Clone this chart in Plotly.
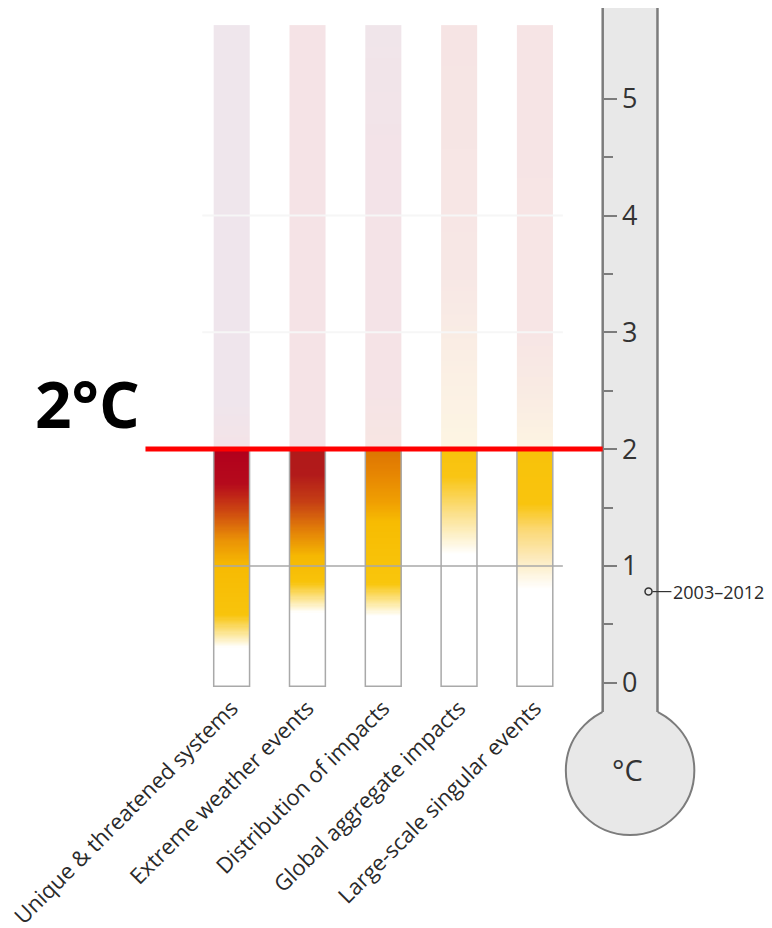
import numpy as np
import plotly.graph_objects as go

# ---------------- data ----------------
CATEGORIES = [
    "Unique & threatened systems",
    "Extreme weather events",
    "Distribution of impacts",
    "Global aggregate impacts",
    "Large-scale singular events",
]
CAT_POS = [0, 1, 2, 3, 4]

BAR_BOTTOM = -0.03        # °C, bottom of each bar
BAR_TOP = 5.63            # °C, top of the faded bars
THRESHOLD = 2.0           # red 2 °C line
REF_LINE = 1.0            # grey 1 °C line
GRID_LEVELS = [3, 4]      # faint white lines
TEMP_TICKS = [0, 1, 2, 3, 4, 5]
MINOR_TICKS = [0.5, 1.5, 2.5, 3.5, 4.5]
WARMING_2003_2012 = 0.78
WARMING_LABEL = "2003–2012"
BIG_LABEL = "2°C"
BIG_LABEL_Y = 2.39

# colour stops (temperature °C, colour), full part below 2 °C
STOPS_UNIQUE = [(-0.03, "#ffffff"), (0.30, "#ffffff"), (0.58, "#f8c40c"), (1.00, "#f7ba02"),
                (1.22, "#ea9206"), (1.45, "#cf4c10"), (1.70, "#b50a1c"), (2.0, "#b1001c")]
STOPS_EXTREME = [(-0.03, "#ffffff"), (0.60, "#ffffff"), (0.86, "#f8c30a"), (1.08, "#f6b802"),
                 (1.31, "#e27e08"), (1.55, "#c53e14"), (1.78, "#b21a1a"), (2.0, "#b01a1a")]
STOPS_DISTRIB = [(-0.03, "#ffffff"), (0.57, "#ffffff"), (0.85, "#f9c60c"), (1.37, "#f7bc02"),
                 (1.54, "#f0a002"), (1.80, "#e68402"), (2.0, "#dd7402")]
STOPS_GLOBAL = [(-0.03, "#ffffff"), (1.10, "#ffffff"), (1.45, "#fbe08a"), (1.76, "#f9c514"),
                (2.0, "#f8c20c")]
STOPS_LARGE = [(-0.03, "#ffffff"), (0.80, "#ffffff"), (1.05, "#fcebc0"), (1.30, "#fbd978"),
               (1.53, "#f9c40e"), (2.0, "#f8c20a")]
# faded part above 2 °C
FADED_UNIQUE = [(2.0, "#f4e3e7"), (2.4, "#efe5ec"), (5.63, "#efe6ec")]
FADED_EXTREME = [(2.0, "#f5e3e6"), (5.63, "#f5e3e6")]
FADED_DISTRIB = [(2.0, "#f7e6e2"), (2.5, "#f5e3e6"), (4.5, "#f3e3e8"), (5.63, "#f0e5ea")]
FADED_GLOBAL = [(2.0, "#fdf5e3"), (2.6, "#fbf0e4"), (3.5, "#f7e7e5"), (5.63, "#f6e4e4")]
FADED_LARGE = [(2.0, "#fdf4e2"), (2.5, "#f9ebe3"), (3.0, "#f7e5e5"), (5.63, "#f6e4e5")]

FULL_STOPS = [STOPS_UNIQUE, STOPS_EXTREME, STOPS_DISTRIB, STOPS_GLOBAL, STOPS_LARGE]
FADED_STOPS = [FADED_UNIQUE, FADED_EXTREME, FADED_DISTRIB, FADED_GLOBAL, FADED_LARGE]

# ---------------- layout geometry (reference pixels; page body adds 8 px) ----------------
W, H = 772, 928
OFF = 8
PLOT_TOP, PLOT_BOTTOM = 8, 690          # in page pixels
PX_ZERO, PX_PER_DEG = 682.7, 116.8
X_PX_FIRST, X_PX_STEP = 229.5, 76.1
BAR_W = 36 / X_PX_STEP

y_lo = (PX_ZERO - PLOT_BOTTOM) / PX_PER_DEG
y_hi = (PX_ZERO - PLOT_TOP) / PX_PER_DEG
x_lo = (OFF - X_PX_FIRST) / X_PX_STEP
x_hi = (W + OFF - X_PX_FIRST) / X_PX_STEP


def px(xp):      # page pixel x -> paper x
    return (xp - OFF) / W


def py(yp):      # page pixel y -> paper y
    return (PLOT_BOTTOM - yp) / (PLOT_BOTTOM - PLOT_TOP)


def pxd(xp):     # page pixel x -> data x
    return (xp - X_PX_FIRST) / X_PX_STEP


fig = go.Figure()

# gradient bars: heatmap columns whose value is the temperature itself
edges = np.round(np.arange(BAR_BOTTOM, BAR_TOP + 0.005, 0.01), 4)
centers = (edges[:-1] + edges[1:]) / 2
span = BAR_TOP - BAR_BOTTOM
for pos, full, faded in zip(CAT_POS, FULL_STOPS, FADED_STOPS):
    cs = []
    for t, c in list(full) + list(faded):
        v = min(1.0, max(0.0, round((t - BAR_BOTTOM) / span, 6)))
        cs.append([v, c])
    cs[0][0] = 0.0
    cs[-1][0] = 1.0
    fig.add_trace(go.Heatmap(
        x=[pos - BAR_W / 2, pos + BAR_W / 2],
        y=edges,
        z=[[c] for c in centers],
        zmin=BAR_BOTTOM, zmax=BAR_TOP,
        colorscale=cs, showscale=False, hoverinfo="skip",
    ))

# outlines of the lower part of each bar
fig.add_trace(go.Bar(
    x=CAT_POS, y=[THRESHOLD - BAR_BOTTOM] * len(CAT_POS), base=BAR_BOTTOM, width=BAR_W,
    marker=dict(color="rgba(0,0,0,0)", line=dict(color="#a9a9a9", width=1.5)),
    hoverinfo="skip",
))

# 2003-2012 marker
fig.add_trace(go.Scatter(
    x=[pxd(648)], y=[WARMING_2003_2012], mode="markers",
    marker=dict(symbol="circle", size=7, color="#e8e8e8", line=dict(color="#333333", width=1.5)),
    hoverinfo="skip", cliponaxis=False,
))

shapes = []
# thermometer (drawn below)
th_line = "#7c7c7c"
th_fill = "#e8e8e8"
shapes.append(dict(type="circle", xref="paper", yref="paper", layer="below",
                   x0=px(565), x1=px(694), y0=py(835), y1=py(706),
                   fillcolor=th_fill, line=dict(color=th_line, width=2)))
shapes.append(dict(type="rect", xref="paper", yref="paper", layer="below",
                   x0=px(602), x1=px(657), y0=py(730), y1=py(8),
                   fillcolor=th_fill, line=dict(width=0)))
for xe in (602, 657):
    shapes.append(dict(type="line", xref="paper", yref="paper", layer="below",
                       x0=px(xe), x1=px(xe), y0=py(712), y1=py(8),
                       line=dict(color=th_line, width=2.5)))

# faint lines at 3 and 4 over the bars
for g in GRID_LEVELS:
    shapes.append(dict(type="line", xref="paper", yref="y", layer="above",
                       x0=px(200), x1=px(562), y0=g, y1=g,
                       line=dict(color="#f6f6f6", width=2)))
# grey 1 °C line
shapes.append(dict(type="line", xref="paper", yref="y", layer="above",
                   x0=px(212), x1=px(562), y0=REF_LINE, y1=REF_LINE,
                   line=dict(color="#a8a8a8", width=1.5)))
# red 2 °C line
shapes.append(dict(type="line", xref="paper", yref="y", layer="above",
                   x0=px(143), x1=px(602), y0=THRESHOLD, y1=THRESHOLD,
                   line=dict(color="#ff0000", width=5)))
# 2003-2012 leader
shapes.append(dict(type="line", xref="paper", yref="y", layer="above",
                   x0=px(652), x1=px(671), y0=WARMING_2003_2012, y1=WARMING_2003_2012,
                   line=dict(color="#333333", width=1.2)))

annotations = [
    dict(text=WARMING_LABEL, x=px(671), y=WARMING_2003_2012, xref="paper", yref="y",
         xanchor="left", yanchor="middle", showarrow=False,
         font=dict(family="Open Sans", size=18, color="#2a2a2a")),
    dict(text="°C", x=px(627), y=py(770), xref="paper", yref="paper",
         xanchor="center", yanchor="middle", showarrow=False,
         font=dict(family="Open Sans", size=29, color="#333333")),
    dict(text="<b>" + BIG_LABEL + "</b>", x=px(85), y=BIG_LABEL_Y, xref="paper", yref="y",
         xanchor="center", yanchor="middle", showarrow=False,
         font=dict(family="Open Sans", size=64, color="#000000")),
]

fig.update_layout(
    width=W, height=H,
    margin=dict(l=0, r=0, t=PLOT_TOP - OFF, b=H - (PLOT_BOTTOM - OFF), pad=0),
    paper_bgcolor="white", plot_bgcolor="white",
    showlegend=False, hovermode=False,
    shapes=shapes, annotations=annotations,
    xaxis=dict(range=[x_lo, x_hi], tickmode="array", tickvals=CAT_POS, ticktext=CATEGORIES,
               tickangle=-45, showgrid=False, zeroline=False, showline=False, ticks="",
               ticklabeloverflow="allow",
               tickfont=dict(family="Open Sans", size=22, color="#2a2a2a"), fixedrange=True),
    yaxis=dict(range=[y_lo, y_hi], anchor="free", position=px(602), side="right",
               tickmode="array", tickvals=TEMP_TICKS, ticks="outside", ticklen=13, tickwidth=2,
               tickcolor="#7c7c7c", showgrid=False, zeroline=False, showline=False,
               tickfont=dict(family="Open Sans", size=27, color="#333333"),
               minor=dict(tickmode="array", tickvals=MINOR_TICKS, ticks="outside", ticklen=9,
                          tickwidth=2, tickcolor="#7c7c7c", showgrid=False),
               fixedrange=True),
)

fig.write_html("out.html")
